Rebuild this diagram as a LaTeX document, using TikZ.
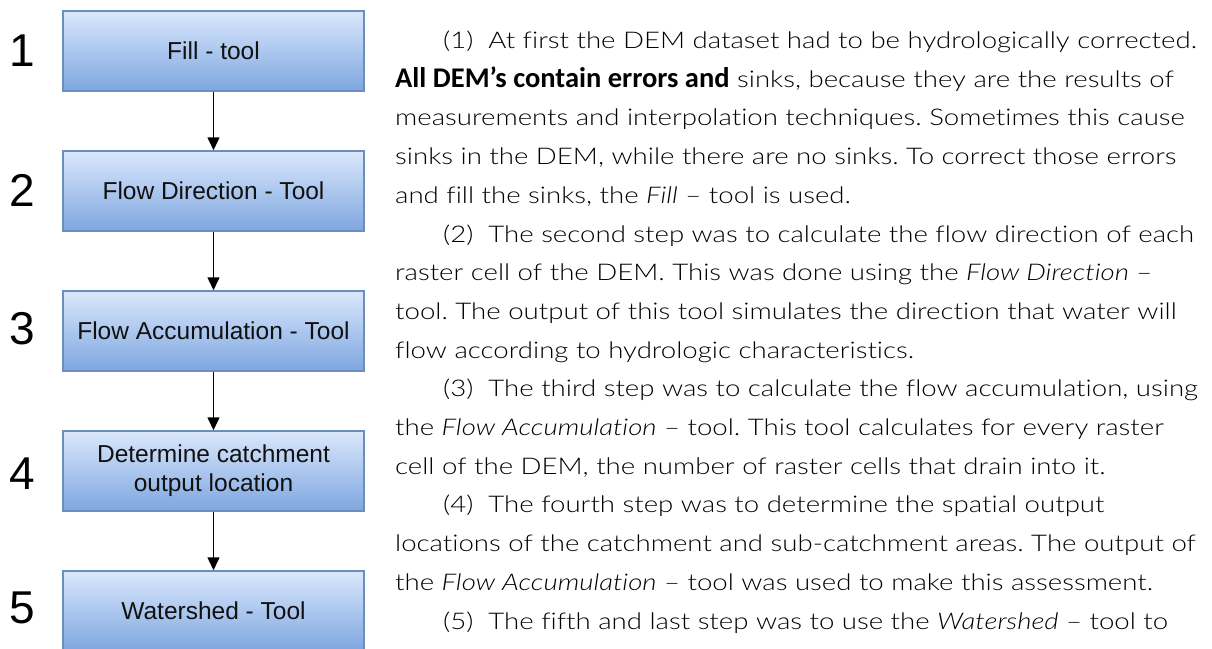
\documentclass[tikz,border=0pt]{standalone}
\usepackage{fontspec}
\setmainfont{Liberation Sans}
\newfontfamily\bodyfont{Lato}[UprightFont=* Light, ItalicFont=* Light Italic, FakeStretch=1.2, Ligatures={NoCommon,NoDiscretionary}]
\newfontfamily\boldpart{Carlito}
\usetikzlibrary{arrows.meta}
\definecolor{boxtop}{HTML}{DAE8FC}
\definecolor{boxbot}{HTML}{7EA6E0}
\definecolor{boxline}{HTML}{6C8EBF}
\definecolor{txt}{HTML}{111111}
\tikzset{
  stepbox/.style={draw=boxline, line width=1.5pt, top color=boxtop, bottom color=boxbot,
    minimum width=301pt, minimum height=80pt, inner sep=0pt, align=center,
    font=\fontsize{24.5}{29}\selectfont, text=txt},
  stepnum/.style={anchor=base, inner sep=0pt, font=\fontsize{46}{50}\selectfont},
  flowarrow/.style={-{Triangle[length=13pt,width=12pt]}, line width=1.5pt, black},
  bodyline/.style={anchor=base west, inner sep=0pt, text=black, font=\bodyfont\fontsize{23}{28}\selectfont},
}
\frenchspacing
\begin{document}
\begin{tikzpicture}[x=1pt,y=-1pt]
\clip (0,0) rectangle (1212,648);
\fill[white] (0,0) rectangle (1212,648);
% boxes
\node[stepbox] (b1) at (213.5,51) {Fill - tool};
\node[stepbox] (b2) at (213.5,191) {Flow Direction - Tool};
\node[stepbox] (b3) at (213.5,331) {Flow Accumulation - Tool};
\node[stepbox] (b4) at (213.5,471) {Determine catchment\\output location};
\node[stepbox] (b5) at (213.5,611) {Watershed - Tool};
\draw[flowarrow] (b1) -- (b2);
\draw[flowarrow] (b2) -- (b3);
\draw[flowarrow] (b3) -- (b4);
\draw[flowarrow] (b4) -- (b5);
% numbers
\node[stepnum] (n1) at (22,66) {1};
\node[stepnum] (n2) at (22,206) {2};
\node[stepnum] (n3) at (22,344) {3};
\node[stepnum] (n4) at (22,489) {4};
\node[stepnum] (n5) at (22,623) {5};
% text
\node[bodyline] (t1) at (443,48.5) {(1)\ \ At first the DEM dataset had to be hydrologically corrected.};
\node[bodyline] (t2) at (395,87.2) {{\boldpart\bfseries\fontsize{28.5}{30}\selectfont All DEM’s contain errors and} sinks, because they are the results of};
\node[bodyline] (t3) at (395,125.9) {measurements and interpolation techniques. Sometimes this cause};
\node[bodyline] (t4) at (395,164.6) {sinks in the DEM, while there are no sinks. To correct those errors};
\node[bodyline] (t5) at (395,203.3) {and fill the sinks, the \textit{Fill} – tool is used.};
\node[bodyline] (t6) at (443,242) {(2)\ \ The second step was to calculate the flow direction of each};
\node[bodyline] (t7) at (395,280.7) {raster cell of the DEM. This was done using the \textit{Flow Direction} –};
\node[bodyline] (t8) at (395,319.4) {tool. The output of this tool simulates the direction that water will};
\node[bodyline] (t9) at (395,358.1) {flow according to hydrologic characteristics.};
\node[bodyline] (t10) at (443,396.8) {(3)\ \ The third step was to calculate the flow accumulation, using};
\node[bodyline] (t11) at (395,435.5) {the \textit{Flow Accumulation} – tool. This tool calculates for every raster};
\node[bodyline] (t12) at (395,474.2) {cell of the DEM, the number of raster cells that drain into it.};
\node[bodyline] (t13) at (443,512.9) {(4)\ \ The fourth step was to determine the spatial output};
\node[bodyline] (t14) at (395,551.6) {locations of the catchment and sub-catchment areas. The output of};
\node[bodyline] (t15) at (395,590.3) {the \textit{Flow Accumulation} – tool was used to make this assessment.};
\node[bodyline] (t16) at (443,629) {(5)\ \ The fifth and last step was to use the \textit{Watershed} – tool to};
\end{tikzpicture}
\end{document}
